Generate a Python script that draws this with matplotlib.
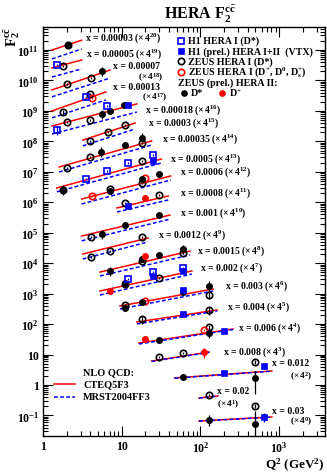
import numpy as np
import matplotlib.pyplot as plt
from matplotlib.lines import Line2D
from matplotlib.ticker import FixedLocator, LogLocator, FuncFormatter, NullFormatter

plt.rcParams['font.family'] = ['Liberation Serif', 'DejaVu Serif']
plt.rcParams['font.weight'] = 'bold'
plt.rcParams['mathtext.fontset'] = 'custom'
plt.rcParams['mathtext.rm'] = 'Liberation Serif'
plt.rcParams['mathtext.bf'] = 'Liberation Serif:bold'
plt.rcParams['mathtext.it'] = 'Liberation Serif:italic'

# x bins, shifted by 4^n on the plot
x_bins = ['0.00003', '0.00005', '0.00007', '0.00013', '0.00018', '0.0003', '0.00035',
          '0.0005', '0.0006', '0.0008', '0.001', '0.0012', '0.0015', '0.002', '0.003',
          '0.004', '0.006', '0.008', '0.012', '0.02', '0.03']
x_pow = list(range(20, -1, -1))

# NLO QCD curves (F2cc * 4^n) at the ends of each Q2 range
q2_lo = [1.3, 1.3, 1.3, 1.3, 1.3, 3.2, 1.6, 1.5, 3.1, 8.7, 3.1, 3.2, 5.3, 5.3, 9.5,
         15.6, 16.6, 24, 47, 96, 96]
q2_hi = [3.1, 3.1, 7.1, 6.3, 15.6, 14.8, 24, 32, 42, 39, 41, 21.6, 74, 78, 145,
         163, 260, 129, 810, 167, 810]
cteq_lo = [1.0e11, 2.6e10, 4.9e9, 1.0e9, 3.2e8, 1.1e8, 1.44e7, 2.95e6, 1.28e6, 6.5e5,
           7.8e4, 2.0e4, 5.1e3, 1.22e3, 393, 117, 23.9, 6.1, 1.70, 0.374, 0.0657]
cteq_hi = [2.1e11, 4.7e10, 2.2e10, 4.2e9, 1.7e9, 4.0e8, 1.03e8, 2.64e7, 7.3e6, 1.61e6,
           3.8e5, 6.7e4, 2.5e4, 5.55e3, 1.42e3, 290, 69, 12.1, 2.88, 0.435, 0.0889]
mrst_lo = [5.1e10, 1.3e10, 2.9e9, 5.9e8, 1.75e8, 7.1e7, 9.9e6, 2.2e6, 8.8e5, 4.8e5,
           5.4e4, 1.37e4, 3.8e3, 900, 313, 101, 22.2, 5.9, 1.66, 0.37, 0.065]
mrst_hi = [1.08e11, 2.4e10, 1.2e10, 2.3e9, 9.2e8, 2.55e8, 7.6e7, 1.95e7, 5.4e6, 1.19e6,
           2.8e5, 5.0e4, 1.86e4, 4.4e3, 1.22e3, 269, 66, 11.8, 2.85, 0.43, 0.088]

# H1 HERA I (D*)
h1_q2 = [1.5, 3.5, 6.5, 1.5, 3.5, 6.5, 12, 25, 12, 25, 60]
h1_f2 = [3.2e10, 2.9e9, 1.45e9, 2.4e8, 5.8e6, 1.07e7, 1.95e7, 3.6e7, 3.0e3, 5.1e3, 7.0e3]
h1_err = [0.1, 0.1, 0.1, 0.35, 0.1, 0.1, 0.1, 0.1, 0.1, 0.1, 0.1]

# H1 (prel.) HERA I+II (VTX)
vtx_q2 = [12, 25, 12, 25, 60, 60, 60, 200, 200, 650, 650]
vtx_f2 = [1.57e9, 2.27e7, 7.6e5, 3.8e3, 5.55e3, 1.32e3, 215, 59, 2.48, 4.2, 0.089]
vtx_err = [0.08, 0.08, 0.08, 0.08, 0.08, 0.08, 0.08, 0.08, 0.1, 0.1, 0.3]

# ZEUS HERA I (D*)
zi_q2 = [2.08, 1.8, 2.0, 4.07, 1.8, 4.0, 2.0, 4.0, 4.0, 6.7, 11, 2.0, 4.0, 18, 1.8, 18,
         7.1, 18, 11, 30, 4.07, 4.07, 7.1, 18, 18, 60, 11, 30, 11, 130, 18, 130, 130,
         30, 60, 500, 130, 500]
zi_f2 = [1.47e11, 3.0e10, 7.7e9, 1.21e10, 9.2e8, 3.6e9, 4.3e8, 5.0e8, 1.03e8, 2.04e8,
         3.46e8, 1.34e7, 3.08e7, 8.85e7, 2.54e6, 2.27e7, 2.73e6, 4.3e6, 9.5e5, 1.74e6,
         7.25e4, 1.6e4, 2.52e4, 7.25e4, 1.18e4, 2.16e4, 2.07e3, 3.27e3, 424, 903, 147,
         290, 80, 8.3, 11.2, 5.7, 0.47, 0.204]
zi_err = [0.1, 0.1, 0.1, 0.1, 0.2, 0.1, 0.1, 0.1, 0.1, 0.1, 0.1, 0.1, 0.1, 0.1, 0.1, 0.1,
          0.1, 0.1, 0.1, 0.1, 0.1, 0.1, 0.1, 0.1, 0.1, 0.1, 0.1, 0.1, 0.1, 0.25, 0.3, 0.3,
          0.2, 0.1, 0.1, 0.15, 0.1, 0.15]

# ZEUS HERA I (D+, D0, Ds+)
zid_q2 = [4.2, 4.2, 20, 20, 111]
zid_f2 = [2.66e9, 1.61e6, 6.3e6, 574, 64]
zid_err = [0.1, 0.1, 0.1, 0.1, 0.1]

# ZEUS (prel.) HERA II, D*
zii_q2 = [2.08, 5.6, 5.6, 7.1, 10.7, 5.5, 11, 18, 1.8, 7.1, 18, 30, 5.6, 11, 30, 7.1, 18,
          30, 60, 11, 11, 18, 60, 130, 30, 130, 60, 500, 130, 500]
zii_f2 = [1.47e11, 2.05e10, 7.9e8, 1.0e9, 1.6e9, 4.5e7, 7.6e7, 1.29e8, 2.54e6, 2.35e6,
          5.8e6, 8.5e6, 9.1e4, 1.8e5, 3.83e5, 5.55e3, 1.37e4, 1.86e4, 2.93e4, 2.24e3, 338,
          532, 1.13e3, 1.78e3, 30, 51, 1.83, 1.70, 0.071, 0.052]
zii_elo = [0.1, 0.3, 0.3, 0.1, 0.1, 0.3, 0.1, 0.3, 0.3, 0.1, 0.1, 0.1, 0.3, 0.1, 0.1, 0.3,
           0.1, 0.1, 0.3, 0.1, 0.1, 0.1, 0.1, 0.35, 0.1, 0.3, 0.1, 0.7, 0.35, 0.6]
zii_ehi = [0.1, 0.4, 0.4, 0.1, 0.1, 0.4, 0.1, 0.45, 0.4, 0.1, 0.1, 0.1, 0.4, 0.1, 0.1, 0.4,
           0.1, 0.1, 0.4, 0.1, 0.1, 0.1, 0.1, 0.5, 0.1, 0.45, 0.1, 0.7, 0.5, 1.7]

# ZEUS (prel.) HERA II, D+
ziid_q2 = [20, 20, 7.1, 20, 111]
ziid_f2 = [1.38e6, 1.72e4, 1.22e3, 32.4, 12.1]
ziid_err = [0.1, 0.1, 0.1, 0.1, 0.35]

y_ticks = [10.0 ** k for k in range(-1, 12)]
x_ticks = [1, 10, 100, 1000]

W, H = 327, 477
fig = plt.figure(figsize=(W / 100, H / 100), dpi=100)
ax = fig.add_axes([43 / W, 1 - 437 / H, 282 / W, 409 / H])


def fp(px, py):
    return px / W, 1 - py / H


ax.set_xscale('log')
ax.set_yscale('log')
ax.set_xlim(1, 3830)
ax.set_ylim(0.0211, 5.7e11)

for i in range(len(x_bins)):
    ax.plot([q2_lo[i], q2_hi[i]], [cteq_lo[i], cteq_hi[i]], color='red', lw=1.1, zorder=2)
    ax.plot([q2_lo[i], q2_hi[i]], [mrst_lo[i], mrst_hi[i]], color='blue', lw=1.1,
            ls=(0, (2.5, 1.5)), zorder=2)


def draw(q2, f2, elo, ehi, marker, color, filled, ms):
    q2 = np.array(q2); f2 = np.array(f2)
    yerr = [f2 * np.array(elo), f2 * np.array(ehi)]
    ax.errorbar(q2, f2, yerr=yerr, fmt=marker, ms=ms, mew=1.2, mec=color,
                mfc=color if filled else 'none', ecolor=color, elinewidth=0.9,
                capsize=0, zorder=3)


draw(zi_q2, zi_f2, zi_err, zi_err, 'o', 'black', False, 4.6)
draw(zid_q2, zid_f2, zid_err, zid_err, 'o', 'red', False, 4.6)
draw(zii_q2, zii_f2, zii_elo, zii_ehi, 'o', 'black', True, 3.8)
draw(ziid_q2, ziid_f2, ziid_err, ziid_err, 'o', 'red', True, 3.8)
draw(h1_q2, h1_f2, h1_err, h1_err, 's', 'blue', False, 4.8)
draw(vtx_q2, vtx_f2, vtx_err, vtx_err, 's', 'blue', True, 3.6)


# axes style
def pow_lab(v, pos):
    e = int(round(np.log10(v)))
    if e == 0:
        return '1'
    if e == 1:
        return '10'
    return r'$\mathbf{10^{%d}}$' % e


ax.xaxis.set_major_locator(FixedLocator(x_ticks))
ax.xaxis.set_minor_locator(LogLocator(base=10, subs=np.arange(2, 10), numticks=20))
ax.yaxis.set_major_locator(FixedLocator(y_ticks))
ax.yaxis.set_minor_locator(LogLocator(base=10, subs=np.arange(2, 10), numticks=40))
ax.xaxis.set_major_formatter(FuncFormatter(pow_lab))
ax.yaxis.set_major_formatter(FuncFormatter(pow_lab))
ax.xaxis.set_minor_formatter(NullFormatter())
ax.yaxis.set_minor_formatter(NullFormatter())
ax.tick_params(which='both', direction='in', top=True, right=True, width=0.8,
               labelsize=8.5)
ax.tick_params(which='major', length=7)
ax.tick_params(which='minor', length=3.5)
ax.tick_params(axis='x', pad=3)
ax.tick_params(axis='y', pad=3)
for s in ax.spines.values():
    s.set_linewidth(1.0)

fig.text(*fp(200, 14), r'HERA F$_{\mathbf{2}}^{\mathbf{c\bar{c}}}$', fontsize=11.5,
         ha='center', va='center')
fig.text(*fp(13, 37), r'F$_{\mathbf{2}}^{\mathbf{c\bar{c}}}$', fontsize=10.5,
         rotation=90, ha='center', va='center')
fig.text(*fp(325, 465), r'Q$^{\mathbf{2}}$ (GeV$^{\mathbf{2}}$)', fontsize=9.5,
         ha='right', va='center')

# x bin labels (left edge, centre line in pixels)
label_px = [(85, 38), (86, 54), (113, 66.5), (113, 87.5), (145, 110.5), (148, 123), (162, 139),
            (170, 159), (180, 172), (180, 193), (180, 213), (158, 235), (197, 251),
            (200, 268), (225, 286), (227, 307), (238, 328), (223, 352), (272, 364),
            (217, 392), (272, 411)]
second_line_px = {2: (138, 77.5), 3: (142, 98), 18: (290, 377), 19: (217, 405), 20: (290, 422)}
fs = 7.0
for i, xb in enumerate(x_bins):
    sc = r'$(\times\,4^{%d})$' % x_pow[i]
    lx, ly = label_px[i]
    if i in second_line_px:
        fig.text(*fp(lx, ly), 'x = ' + xb, fontsize=fs, va='center')
        fig.text(*fp(*second_line_px[i]), sc, fontsize=6.6, va='center')
    else:
        fig.text(*fp(lx, ly), 'x = ' + xb + ' ' + sc, fontsize=fs, va='center')

# data legend
leg = [('s', 'blue', False, 4.8, 'H1 HERA I (D*)'),
       ('s', 'blue', True, 3.6, 'H1 (prel.) HERA I+II  (VTX)'),
       ('o', 'black', False, 4.6, 'ZEUS HERA I (D*)'),
       ('o', 'red', False, 4.6,
        r'ZEUS HERA I (D$^{\mathbf{+}}$, D$^{\mathbf{0}}$, D$_{\mathbf{s}}^{\mathbf{+}}$)')]
leg_y = [41.5, 52, 62, 73]
for k, (m, c, f, ms, txt) in enumerate(leg):
    y = leg_y[k]
    fig.add_artist(Line2D([181 / W], [1 - y / H], marker=m, ms=ms, mew=1.2, mec=c,
                          mfc=c if f else 'none', ls='none', transform=fig.transFigure))
    fig.text(*fp(188, y), txt, fontsize=7.2, va='center')
fig.text(*fp(178, 83.5), 'ZEUS (prel.) HERA II:', fontsize=7.2, va='center')
for px_, c, txt in [(184, 'black', 'D*'), (222, 'red', r'D$^{\mathbf{+}}$')]:
    fig.add_artist(Line2D([px_ / W], [1 - 93.5 / H], marker='o', ms=3.8, mec=c, mfc=c,
                          ls='none', transform=fig.transFigure))
    fig.text(*fp(px_ + 7, 93.5), txt, fontsize=7.2, va='center')

# theory legend
fig.text(*fp(83, 373), 'NLO QCD:', fontsize=7.4, va='center')
fig.add_artist(Line2D([54 / W, 75 / W], [1 - 385 / H] * 2, color='red', lw=1.1,
                      transform=fig.transFigure))
fig.text(*fp(83, 385), 'CTEQ5F3', fontsize=7.4, va='center')
fig.add_artist(Line2D([54 / W, 75 / W], [1 - 398 / H] * 2, color='blue', lw=1.1,
                      ls=(0, (2.5, 1.5)), transform=fig.transFigure))
fig.text(*fp(83, 398), 'MRST2004FF3', fontsize=7.4, va='center')

fig.savefig('out.png', dpi=100)
